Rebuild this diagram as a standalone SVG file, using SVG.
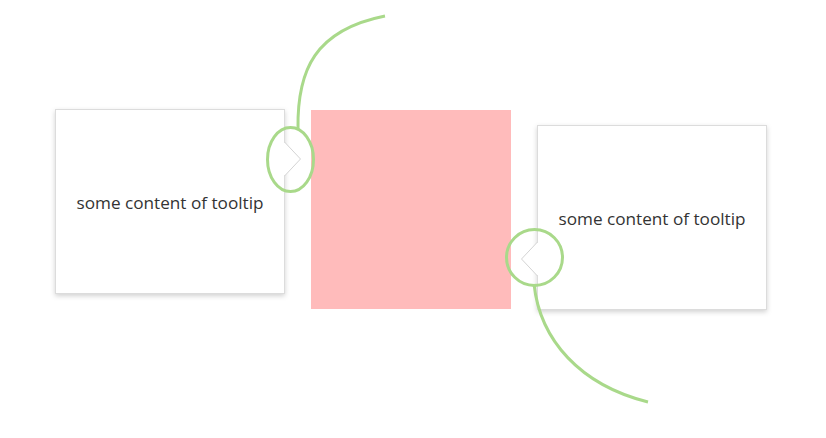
<svg xmlns="http://www.w3.org/2000/svg" width="826" height="438" viewBox="0 0 826 438">
<defs>
<filter id="sh" x="-10%" y="-10%" width="120%" height="125%">
<feDropShadow dx="0" dy="2" stdDeviation="2.5" flood-color="#000" flood-opacity="0.18"/>
</filter>
</defs>
<style>
.box{fill:#fff;stroke:#dcdcdc;stroke-width:1}
.arr{fill:#fff;stroke:#d4d4d4;stroke-width:1}
.txt{font-family:"Open Sans","Noto Sans",sans-serif;font-size:16.5px;fill:#333;text-anchor:middle}
.hl{fill:none;stroke:#a9d98a;stroke-width:3}
</style>
<rect width="826" height="438" fill="#fff"/>
<g id="target"><rect x="311" y="110" width="200" height="199" fill="#ffbbbb"/></g>
<g id="tooltip-left">
<rect class="box" x="55.5" y="109.5" width="229" height="184" filter="url(#sh)"/>
<path class="arr" d="M284.5,142 L300.5,159 L284.5,176"/>
<rect x="283" y="143" width="2" height="32" fill="#fff"/>
<text class="txt" x="170" y="209" textLength="187" lengthAdjust="spacingAndGlyphs">some content of tooltip</text>
</g>
<g id="tooltip-right">
<rect class="box" x="537.5" y="125.5" width="229" height="184" filter="url(#sh)"/>
<path class="arr" d="M537.5,242 L521.5,259 L537.5,276"/>
<rect x="537" y="243" width="2" height="32" fill="#fff"/>
<text class="txt" x="652" y="225" textLength="187" lengthAdjust="spacingAndGlyphs">some content of tooltip</text>
</g>
<g id="connectors">
<ellipse class="hl" cx="290.5" cy="159.5" rx="23" ry="32"/>
<path class="hl" d="M298,129 C297,70 315,30 385,16"/>
<circle class="hl" cx="534.5" cy="257.5" r="28"/>
<path class="hl" d="M534,284 C540,340 580,385 648,402"/>
</g>
</svg>
